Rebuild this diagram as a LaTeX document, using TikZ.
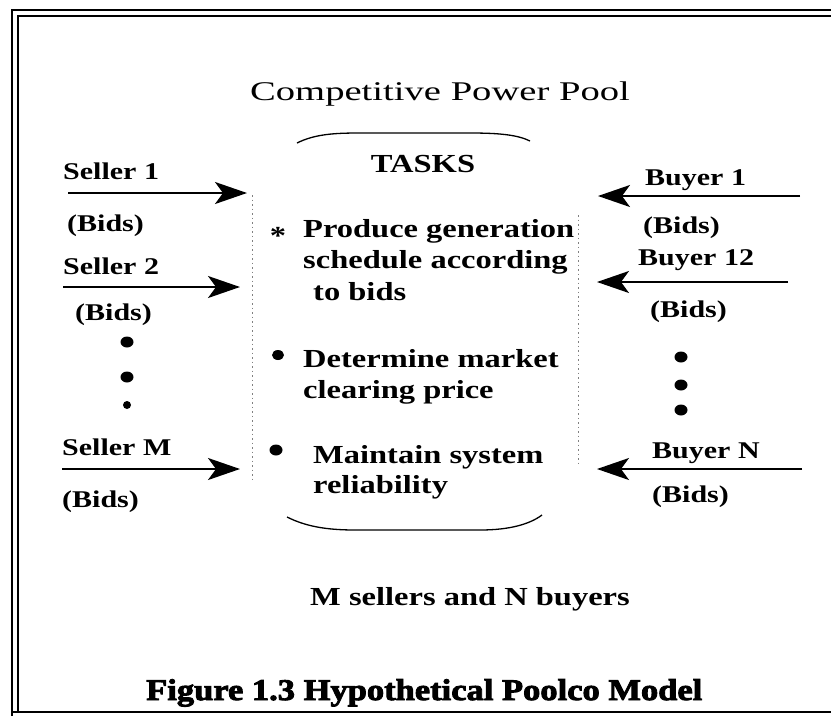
\documentclass[tikz,border=0pt]{standalone}
\usepackage{fontspec}
\setmainfont{Liberation Serif}[FakeStretch=1.25]
\newfontfamily\titlefont[FakeStretch=1.43]{Liberation Serif}
\newfontfamily\capfont[FakeBold=3,FakeStretch=1.15]{Liberation Serif Bold}
\usetikzlibrary{arrows.meta,shapes.geometric}
\begin{document}
\begin{tikzpicture}[x=1pt,y=-1pt,
  lbl/.style={anchor=base west,inner sep=0pt,font=\fontsize{24}{24}\selectfont\bfseries},
  task/.style={anchor=base west,inner sep=0pt,font=\fontsize{26}{26}\selectfont\bfseries},
  feed/.style={line width=1.8pt,-{Stealth[length=32pt,width=22pt,inset=8pt]}},
  side/.style={line width=0.6pt,gray,dash pattern=on 1.5pt off 3pt},
  rim/.style={line width=1.3pt},
  dot/.style={ellipse,fill=black,inner sep=0pt,minimum width=13pt,minimum height=11pt},
  smalldot/.style={circle,fill=black,inner sep=0pt,minimum size=8pt}]
\useasboundingbox (0,0) rectangle (831,716);
% frame
\draw[line width=2.5pt] (12,716) -- (12,10) -- (831,10);
\draw[line width=1.8pt] (18,712) -- (18,16) -- (831,16);
\draw[line width=2.8pt] (12,712) -- (831,712);
% headings
\node[anchor=base,inner sep=0pt,font=\fontsize{27}{27}\titlefont] (title) at (440,100) {Competitive Power Pool};
\node[anchor=base,inner sep=0pt,font=\fontsize{26}{26}\selectfont\bfseries] (tasks) at (423,172) {TASKS};
% task pool outline
\draw[rim] (297,143) .. controls (315,134) and (335,133) .. (360,133) -- (470,133) .. controls (500,133) and (518,135) .. (530,141);
\draw[rim] (287,517) .. controls (305,526) and (325,530) .. (355,530) -- (480,530) .. controls (510,530) and (530,524) .. (542,515);
\draw[side] (252,195) -- (252,480);
\draw[side] (578,215) -- (578,465);
% tasks
\node[anchor=center,inner sep=0pt,font=\fontsize{26}{26}\selectfont\bfseries] (st1) at (278,236) {*};
\node[task] (t1a) at (303,237) {Produce generation};
\node[task] (t1b) at (303,268) {schedule according};
\node[task] (t1c) at (313,300) {to bids};
\node[dot,minimum width=12pt,minimum height=10pt] (b2) at (278,355) {};
\node[task] (t2a) at (303,367) {Determine market};
\node[task] (t2b) at (303,398) {clearing price};
\node[dot] (b3) at (276,450) {};
\node[task] (t3a) at (313,463) {Maintain system};
\node[task] (t3b) at (313,493) {reliability};
% sellers
\node[lbl] (s1) at (63,179) {Seller 1};
\node[lbl] (s1b) at (67,231) {(Bids)};
\node[lbl] (s2) at (63,274) {Seller 2};
\node[lbl] (s2b) at (75,320) {(Bids)};
\node[dot] (sd1) at (127,342) {};
\node[dot] (sd2) at (127,377) {};
\node[smalldot] (sd3) at (127,405) {};
\node[lbl] (sm) at (62,455) {Seller M};
\node[lbl] (smb) at (62,507) {(Bids)};
\coordinate (s1o) at (68,193);  \coordinate (s1i) at (247,193);
\coordinate (s2o) at (63,287);  \coordinate (s2i) at (240,287);
\coordinate (smo) at (62,469);  \coordinate (smi) at (240,469);
\draw[feed] (s1o) -- (s1i);
\draw[feed] (s2o) -- (s2i);
\draw[feed] (smo) -- (smi);
% buyers
\node[lbl] (u1) at (645,185) {Buyer 1};
\node[lbl] (u1b) at (643,233) {(Bids)};
\node[lbl] (u2) at (638,265) {Buyer 12};
\node[lbl] (u2b) at (650,317) {(Bids)};
\node[dot] (ud1) at (681,357) {};
\node[dot] (ud2) at (681,385) {};
\node[dot] (ud3) at (681,410) {};
\node[lbl] (un) at (652,458) {Buyer N};
\node[lbl] (unb) at (652,502) {(Bids)};
\coordinate (u1o) at (800,196); \coordinate (u1i) at (598,196);
\coordinate (u2o) at (788,282); \coordinate (u2i) at (597,282);
\coordinate (uno) at (802,469); \coordinate (uni) at (597,469);
\draw[feed] (u1o) -- (u1i);
\draw[feed] (u2o) -- (u2i);
\draw[feed] (uno) -- (uni);
% footer
\node[anchor=base,inner sep=0pt,font=\fontsize{26}{26}\selectfont\bfseries] (count) at (470,605) {M sellers and N buyers};
\node[anchor=base west,inner sep=0pt,font=\fontsize{30}{30}\capfont] (cap) at (146,700) {Figure 1.3 Hypothetical Poolco Model};
\end{tikzpicture}
\end{document}
